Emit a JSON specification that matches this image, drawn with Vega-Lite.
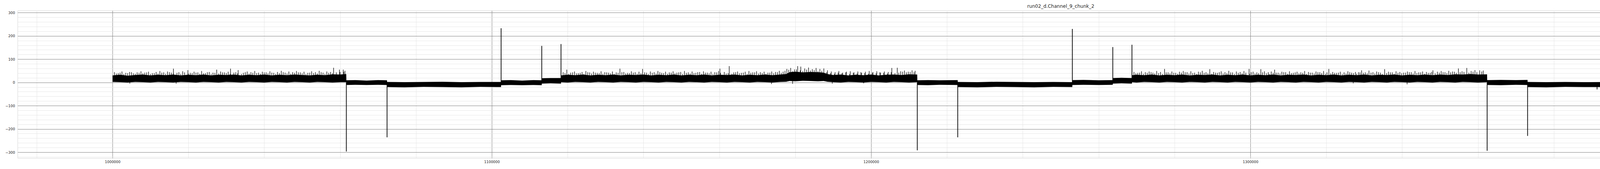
{
"$schema":"https://vega.github.io/schema/vega-lite/v6.json",
"autosize":{"type":"none"},
"padding":{"left":45,"top":27,"right":14,"bottom":28},
"width":5341,"height":377,
"background":"white",
"config":{"view":{"stroke":"#d6d6d6","strokeWidth":1},"axis":{"labelFont":"DejaVu Sans","labelFontSize":9,"labelColor":"#262626","ticks":false,"tickSize":0,"domain":false}},
"title":{"text":"run02_d.Channel_9_chunk_2","font":"DejaVu Sans","fontSize":12,"fontWeight":"normal","color":"#262626","anchor":"middle","offset":4},
"datasets":{
"band":[
{"t":1000000,"lo":2,"hi":30},{"t":1002000,"lo":1,"hi":33},{"t":1004000,"lo":0,"hi":29},{"t":1006000,"lo":2,"hi":32},{"t":1008000,"lo":1,"hi":34},{"t":1010000,"lo":0,"hi":30},{"t":1012000,"lo":2,"hi":33},{"t":1014000,"lo":1,"hi":31},{"t":1016000,"lo":0,"hi":34},{"t":1018000,"lo":2,"hi":30},{"t":1020000,"lo":1,"hi":33},{"t":1022000,"lo":0,"hi":31},{"t":1024000,"lo":2,"hi":34},{"t":1026000,"lo":1,"hi":30},{"t":1028000,"lo":0,"hi":33},{"t":1030000,"lo":2,"hi":32},{"t":1032000,"lo":1,"hi":34},{"t":1034000,"lo":0,"hi":30},{"t":1036000,"lo":2,"hi":33},{"t":1038000,"lo":1,"hi":31},{"t":1040000,"lo":0,"hi":34},{"t":1042000,"lo":2,"hi":30},{"t":1044000,"lo":1,"hi":33},{"t":1046000,"lo":0,"hi":31},{"t":1048000,"lo":2,"hi":34},{"t":1050000,"lo":1,"hi":32},{"t":1052000,"lo":0,"hi":30},{"t":1054000,"lo":2,"hi":33},{"t":1056000,"lo":1,"hi":31},{"t":1058000,"lo":0,"hi":35},{"t":1060000,"lo":1,"hi":34},{"t":1061620,"lo":1,"hi":36},
{"t":1061660,"lo":-11,"hi":9},{"t":1064000,"lo":-10,"hi":10},{"t":1067000,"lo":-11,"hi":8},{"t":1070000,"lo":-10,"hi":10},{"t":1072370,"lo":-11,"hi":9},
{"t":1072400,"lo":-20,"hi":2},{"t":1077000,"lo":-21,"hi":1},{"t":1082000,"lo":-19,"hi":2},{"t":1087000,"lo":-20,"hi":3},{"t":1092000,"lo":-21,"hi":1},{"t":1097000,"lo":-19,"hi":2},{"t":1102440,"lo":-20,"hi":2},
{"t":1102460,"lo":-12,"hi":9},{"t":1105000,"lo":-11,"hi":10},{"t":1108000,"lo":-12,"hi":8},{"t":1111000,"lo":-11,"hi":10},{"t":1113160,"lo":-12,"hi":9},
{"t":1113180,"lo":-5,"hi":18},{"t":1115500,"lo":-4,"hi":19},{"t":1118240,"lo":-5,"hi":19},
{"t":1118260,"lo":1,"hi":30},{"t":1120000,"lo":0,"hi":33},{"t":1122000,"lo":2,"hi":31},{"t":1124000,"lo":1,"hi":34},{"t":1126000,"lo":0,"hi":30},{"t":1128000,"lo":2,"hi":33},{"t":1130000,"lo":1,"hi":31},{"t":1132000,"lo":0,"hi":34},{"t":1134000,"lo":2,"hi":30},{"t":1136000,"lo":1,"hi":33},{"t":1138000,"lo":0,"hi":32},{"t":1140000,"lo":2,"hi":34},{"t":1142000,"lo":1,"hi":30},{"t":1144000,"lo":0,"hi":33},{"t":1146000,"lo":2,"hi":31},{"t":1148000,"lo":1,"hi":34},{"t":1150000,"lo":0,"hi":30},{"t":1152000,"lo":2,"hi":33},{"t":1154000,"lo":1,"hi":31},{"t":1156000,"lo":0,"hi":34},{"t":1158000,"lo":2,"hi":30},{"t":1160000,"lo":1,"hi":33},{"t":1162000,"lo":0,"hi":32},{"t":1164000,"lo":2,"hi":34},{"t":1166000,"lo":1,"hi":30},{"t":1168000,"lo":0,"hi":33},{"t":1170000,"lo":2,"hi":31},{"t":1172000,"lo":1,"hi":34},{"t":1174000,"lo":0,"hi":31},{"t":1176000,"lo":2,"hi":34},{"t":1177600,"lo":3,"hi":36},{"t":1178500,"lo":6,"hi":44},{"t":1180000,"lo":5,"hi":46},{"t":1182000,"lo":7,"hi":43},{"t":1184000,"lo":6,"hi":45},{"t":1186000,"lo":5,"hi":44},{"t":1187500,"lo":6,"hi":42},{"t":1188500,"lo":3,"hi":36},{"t":1190000,"lo":1,"hi":32},{"t":1192000,"lo":0,"hi":34},{"t":1194000,"lo":2,"hi":30},{"t":1196000,"lo":1,"hi":33},{"t":1198000,"lo":0,"hi":31},{"t":1200000,"lo":2,"hi":34},{"t":1202000,"lo":1,"hi":30},{"t":1204000,"lo":0,"hi":33},{"t":1206000,"lo":2,"hi":34},{"t":1208000,"lo":1,"hi":32},{"t":1210000,"lo":0,"hi":35},{"t":1212160,"lo":1,"hi":34},
{"t":1212190,"lo":-11,"hi":9},{"t":1215000,"lo":-12,"hi":10},{"t":1218000,"lo":-10,"hi":9},{"t":1222830,"lo":-11,"hi":10},
{"t":1222850,"lo":-20,"hi":2},{"t":1228000,"lo":-21,"hi":1},{"t":1233000,"lo":-19,"hi":3},{"t":1238000,"lo":-20,"hi":2},{"t":1243000,"lo":-21,"hi":1},{"t":1248000,"lo":-19,"hi":2},{"t":1253050,"lo":-20,"hi":1},
{"t":1253070,"lo":-11,"hi":10},{"t":1256000,"lo":-10,"hi":11},{"t":1260000,"lo":-11,"hi":9},{"t":1263710,"lo":-10,"hi":10},
{"t":1263730,"lo":-5,"hi":19},{"t":1266000,"lo":-4,"hi":20},{"t":1268760,"lo":-5,"hi":19},
{"t":1268780,"lo":1,"hi":31},{"t":1270000,"lo":0,"hi":33},{"t":1272000,"lo":2,"hi":31},{"t":1274000,"lo":1,"hi":34},{"t":1276000,"lo":0,"hi":30},{"t":1278000,"lo":2,"hi":33},{"t":1280000,"lo":1,"hi":31},{"t":1282000,"lo":0,"hi":34},{"t":1284000,"lo":2,"hi":30},{"t":1286000,"lo":1,"hi":33},{"t":1288000,"lo":0,"hi":32},{"t":1290000,"lo":2,"hi":34},{"t":1292000,"lo":1,"hi":30},{"t":1294000,"lo":0,"hi":33},{"t":1296000,"lo":2,"hi":31},{"t":1298000,"lo":1,"hi":34},{"t":1300000,"lo":0,"hi":30},{"t":1302000,"lo":2,"hi":33},{"t":1304000,"lo":1,"hi":31},{"t":1306000,"lo":0,"hi":34},{"t":1308000,"lo":2,"hi":30},{"t":1310000,"lo":1,"hi":33},{"t":1312000,"lo":0,"hi":32},{"t":1314000,"lo":2,"hi":34},{"t":1316000,"lo":1,"hi":30},{"t":1318000,"lo":0,"hi":33},{"t":1320000,"lo":2,"hi":31},{"t":1322000,"lo":1,"hi":34},{"t":1324000,"lo":0,"hi":30},{"t":1326000,"lo":2,"hi":33},{"t":1328000,"lo":1,"hi":31},{"t":1330000,"lo":0,"hi":34},{"t":1332000,"lo":2,"hi":30},{"t":1334000,"lo":1,"hi":33},{"t":1336000,"lo":0,"hi":32},{"t":1338000,"lo":2,"hi":34},{"t":1340000,"lo":1,"hi":30},{"t":1342000,"lo":0,"hi":33},{"t":1344000,"lo":2,"hi":31},{"t":1346000,"lo":1,"hi":34},{"t":1348000,"lo":0,"hi":31},{"t":1350000,"lo":2,"hi":34},{"t":1352000,"lo":1,"hi":32},{"t":1354000,"lo":0,"hi":35},{"t":1356000,"lo":2,"hi":34},{"t":1358000,"lo":1,"hi":36},{"t":1360000,"lo":0,"hi":34},{"t":1362400,"lo":1,"hi":35},
{"t":1362430,"lo":-11,"hi":10},{"t":1366000,"lo":-12,"hi":11},{"t":1370000,"lo":-10,"hi":10},{"t":1373070,"lo":-11,"hi":11},
{"t":1373090,"lo":-20,"hi":2},{"t":1378000,"lo":-21,"hi":1},{"t":1383000,"lo":-19,"hi":2},{"t":1388000,"lo":-20,"hi":1},{"t":1394940,"lo":-20,"hi":2},
{"t":1394950,"lo":-13,"hi":9},{"t":1400000,"lo":-14,"hi":8},{"t":1405000,"lo":-12,"hi":9},{"t":1410000,"lo":-13,"hi":8},{"t":1412370,"lo":-13,"hi":9},
{"t":1412380,"lo":-3,"hi":18},{"t":1413950,"lo":-2,"hi":19},
{"t":1413970,"lo":80,"hi":101},{"t":1416000,"lo":79,"hi":100},{"t":1418880,"lo":80,"hi":101},
{"t":1419000,"lo":197,"hi":221},{"t":1421000,"lo":195,"hi":222},{"t":1423000,"lo":198,"hi":220},{"t":1425200,"lo":196,"hi":221},
{"t":1425210,"lo":49,"hi":71},{"t":1428000,"lo":48,"hi":72},{"t":1431000,"lo":50,"hi":70},{"t":1434000,"lo":49,"hi":71},{"t":1437000,"lo":48,"hi":72},{"t":1440000,"lo":50,"hi":71},{"t":1443000,"lo":49,"hi":70},{"t":1445190,"lo":49,"hi":72},
{"t":1445200,"lo":30,"hi":62},{"t":1445800,"lo":10,"hi":58},{"t":1446500,"lo":15,"hi":55},{"t":1447200,"lo":8,"hi":57},{"t":1447840,"lo":20,"hi":62},
{"t":1447850,"lo":49,"hi":71},{"t":1450000,"lo":48,"hi":72},{"t":1453000,"lo":50,"hi":71},{"t":1456000,"lo":49,"hi":73},{"t":1457400,"lo":48,"hi":71},
{"t":1457410,"lo":0,"hi":19},{"t":1462000,"lo":1,"hi":18},{"t":1467000,"lo":0,"hi":20},{"t":1472000,"lo":1,"hi":19},{"t":1477000,"lo":0,"hi":18},{"t":1482000,"lo":1,"hi":19},{"t":1487000,"lo":0,"hi":20},{"t":1492000,"lo":1,"hi":18},{"t":1497000,"lo":0,"hi":19},{"t":1500000,"lo":1,"hi":19}
],
"spikes":[
{"t":1061650,"a":0,"b":-297},{"t":1072380,"a":-5,"b":-236},{"t":1102450,"a":-5,"b":233},{"t":1113170,"a":0,"b":157},{"t":1118250,"a":5,"b":165},
{"t":1212180,"a":0,"b":-292},{"t":1222840,"a":-5,"b":-236},{"t":1253060,"a":-5,"b":230},{"t":1263720,"a":0,"b":152},{"t":1268770,"a":5,"b":162},
{"t":1362420,"a":0,"b":-294},{"t":1373080,"a":-5,"b":-230},{"t":1391400,"a":-15,"b":-30},{"t":1403225,"a":-5,"b":228},{"t":1413960,"a":10,"b":184},
{"t":1418890,"a":80,"b":0},{"t":1418990,"a":0,"b":280},
{"t":1419470,"a":200,"b":48},{"t":1420550,"a":200,"b":120},{"t":1421240,"a":200,"b":138},{"t":1422430,"a":200,"b":152},{"t":1423220,"a":200,"b":172},{"t":1423910,"a":200,"b":16},{"t":1424690,"a":200,"b":188},
{"t":1429830,"a":50,"b":34},{"t":1432570,"a":50,"b":0},{"t":1435140,"a":50,"b":30},{"t":1438090,"a":50,"b":37},{"t":1439580,"a":50,"b":37},
{"t":1447560,"a":60,"b":80},{"t":1450710,"a":50,"b":38},{"t":1452290,"a":50,"b":35},{"t":1465300,"a":5,"b":-5}
],
"fringe":[
{"t":1004570,"a":5,"b":-5},{"t":1016780,"a":5,"b":-5},{"t":1173740,"a":5,"b":-7},{"t":1179300,"a":8,"b":-6},{"t":1189760,"a":5,"b":-5},{"t":1198040,"a":5,"b":-4},{"t":1327120,"a":5,"b":-4},{"t":1341320,"a":5,"b":-8},
{"t":1000500,"a":25,"b":44},{"t":1001500,"a":25,"b":40},{"t":1002500,"a":25,"b":47},{"t":1003500,"a":25,"b":41},{"t":1004500,"a":25,"b":45},{"t":1005500,"a":25,"b":39},{"t":1006500,"a":25,"b":43},{"t":1007500,"a":25,"b":48},{"t":1008500,"a":25,"b":42},{"t":1009500,"a":25,"b":46},{"t":1010500,"a":25,"b":40},{"t":1011500,"a":25,"b":45},{"t":1012500,"a":25,"b":49},{"t":1013500,"a":25,"b":43},{"t":1014500,"a":25,"b":47},{"t":1015500,"a":25,"b":42},{"t":1016066,"a":25,"b":59},{"t":1017500,"a":25,"b":44},{"t":1018500,"a":25,"b":48},{"t":1019877,"a":25,"b":53},{"t":1020500,"a":25,"b":41},{"t":1021500,"a":25,"b":46},{"t":1022500,"a":25,"b":43},{"t":1023500,"a":25,"b":49},{"t":1024500,"a":25,"b":40},{"t":1025500,"a":25,"b":45},{"t":1026500,"a":25,"b":42},{"t":1027470,"a":25,"b":55},{"t":1028500,"a":25,"b":47},{"t":1029500,"a":25,"b":43},{"t":1030500,"a":25,"b":46},{"t":1031120,"a":25,"b":59},{"t":1032500,"a":25,"b":44},{"t":1033120,"a":25,"b":53},{"t":1034500,"a":25,"b":41},{"t":1035500,"a":25,"b":47},{"t":1036500,"a":25,"b":44},{"t":1037500,"a":25,"b":49},{"t":1038500,"a":25,"b":42},{"t":1039500,"a":25,"b":46},{"t":1040500,"a":25,"b":43},{"t":1041500,"a":25,"b":48},{"t":1042500,"a":25,"b":41},{"t":1043500,"a":25,"b":45},{"t":1044500,"a":25,"b":50},{"t":1045500,"a":25,"b":42},{"t":1046500,"a":25,"b":47},{"t":1047500,"a":25,"b":44},{"t":1048500,"a":25,"b":49},{"t":1049500,"a":25,"b":43},{"t":1050500,"a":25,"b":46},{"t":1051500,"a":25,"b":41},{"t":1052500,"a":25,"b":48},{"t":1053500,"a":25,"b":44},{"t":1054500,"a":25,"b":50},{"t":1055500,"a":25,"b":42},{"t":1056500,"a":25,"b":47},{"t":1057500,"a":25,"b":45},{"t":1058290,"a":25,"b":63},{"t":1059830,"a":25,"b":55},{"t":1060830,"a":25,"b":55},{"t":1061300,"a":25,"b":50},
{"t":1001000,"a":25,"b":38},{"t":1002000,"a":25,"b":42},{"t":1003000,"a":25,"b":36},{"t":1004000,"a":25,"b":40},{"t":1005000,"a":25,"b":44},{"t":1006000,"a":25,"b":37},{"t":1007000,"a":25,"b":41},{"t":1008000,"a":25,"b":39},{"t":1009000,"a":25,"b":43},{"t":1010000,"a":25,"b":36},{"t":1011000,"a":25,"b":40},{"t":1012000,"a":25,"b":38},{"t":1013000,"a":25,"b":42},{"t":1014000,"a":25,"b":37},{"t":1015000,"a":25,"b":44},{"t":1016000,"a":25,"b":39},{"t":1017000,"a":25,"b":41},{"t":1018000,"a":25,"b":36},{"t":1019000,"a":25,"b":43},{"t":1020000,"a":25,"b":38},{"t":1021000,"a":25,"b":40},{"t":1022000,"a":25,"b":42},{"t":1023000,"a":25,"b":37},{"t":1024000,"a":25,"b":39},{"t":1025000,"a":25,"b":44},{"t":1026000,"a":25,"b":36},{"t":1027000,"a":25,"b":41},{"t":1028000,"a":25,"b":38},{"t":1029000,"a":25,"b":43},{"t":1030000,"a":25,"b":40},{"t":1031000,"a":25,"b":37},{"t":1032000,"a":25,"b":42},{"t":1033000,"a":25,"b":39},{"t":1034000,"a":25,"b":36},{"t":1035000,"a":25,"b":44},{"t":1036000,"a":25,"b":38},{"t":1037000,"a":25,"b":41},{"t":1038000,"a":25,"b":40},{"t":1039000,"a":25,"b":37},{"t":1040000,"a":25,"b":43},{"t":1041000,"a":25,"b":39},{"t":1042000,"a":25,"b":42},{"t":1043000,"a":25,"b":36},{"t":1044000,"a":25,"b":40},{"t":1045000,"a":25,"b":44},{"t":1046000,"a":25,"b":38},{"t":1047000,"a":25,"b":37},{"t":1048000,"a":25,"b":41},{"t":1049000,"a":25,"b":43},{"t":1050000,"a":25,"b":39},{"t":1051000,"a":25,"b":36},{"t":1052000,"a":25,"b":42},{"t":1053000,"a":25,"b":40},{"t":1054000,"a":25,"b":38},{"t":1055000,"a":25,"b":44},{"t":1056000,"a":25,"b":37},{"t":1057000,"a":25,"b":41},{"t":1058000,"a":25,"b":39},{"t":1059000,"a":25,"b":43},{"t":1060000,"a":25,"b":45},{"t":1061000,"a":25,"b":46},
{"t":1118800,"a":25,"b":44},{"t":1119774,"a":25,"b":55},{"t":1120800,"a":25,"b":42},{"t":1121800,"a":25,"b":47},{"t":1122800,"a":25,"b":40},{"t":1123800,"a":25,"b":45},{"t":1124800,"a":25,"b":49},{"t":1125800,"a":25,"b":43},{"t":1126800,"a":25,"b":46},{"t":1127800,"a":25,"b":41},{"t":1128800,"a":25,"b":48},{"t":1129800,"a":25,"b":44},{"t":1130800,"a":25,"b":42},{"t":1131800,"a":25,"b":47},{"t":1132800,"a":25,"b":43},{"t":1133780,"a":25,"b":59},{"t":1134800,"a":25,"b":45},{"t":1135800,"a":25,"b":41},{"t":1136800,"a":25,"b":48},{"t":1137800,"a":25,"b":44},{"t":1138800,"a":25,"b":46},{"t":1139750,"a":25,"b":58},{"t":1140800,"a":25,"b":42},{"t":1141800,"a":25,"b":47},{"t":1142800,"a":25,"b":44},{"t":1143800,"a":25,"b":49},{"t":1144800,"a":25,"b":41},{"t":1145800,"a":25,"b":46},{"t":1146800,"a":25,"b":43},{"t":1147800,"a":25,"b":48},{"t":1148800,"a":25,"b":42},{"t":1149800,"a":25,"b":45},{"t":1150800,"a":25,"b":49},{"t":1151800,"a":25,"b":43},{"t":1152800,"a":25,"b":47},{"t":1153800,"a":25,"b":41},{"t":1154800,"a":25,"b":45},{"t":1155800,"a":25,"b":48},{"t":1156800,"a":25,"b":42},{"t":1157800,"a":25,"b":46},{"t":1158800,"a":25,"b":44},{"t":1159800,"a":25,"b":49},{"t":1160145,"a":25,"b":59},{"t":1161300,"a":25,"b":45},{"t":1162590,"a":25,"b":70},{"t":1163800,"a":25,"b":43},{"t":1164800,"a":25,"b":47},{"t":1165800,"a":25,"b":41},{"t":1166800,"a":25,"b":46},{"t":1167800,"a":25,"b":49},{"t":1168800,"a":25,"b":43},{"t":1169800,"a":25,"b":48},{"t":1170800,"a":25,"b":44},{"t":1171800,"a":25,"b":46},{"t":1172800,"a":25,"b":42},{"t":1173800,"a":25,"b":47},{"t":1174800,"a":25,"b":45},{"t":1175800,"a":25,"b":50},{"t":1176800,"a":25,"b":46},{"t":1177800,"a":25,"b":58},{"t":1178800,"a":25,"b":62},{"t":1179800,"a":25,"b":56},{"t":1180640,"a":25,"b":70},{"t":1181460,"a":25,"b":68},{"t":1182500,"a":25,"b":60},{"t":1183500,"a":25,"b":64},{"t":1184500,"a":25,"b":57},{"t":1185500,"a":25,"b":62},{"t":1186500,"a":25,"b":58},{"t":1187540,"a":25,"b":60},{"t":1188500,"a":25,"b":52},{"t":1189500,"a":25,"b":47},{"t":1190500,"a":25,"b":44},{"t":1191500,"a":25,"b":49},{"t":1192500,"a":25,"b":42},{"t":1193500,"a":25,"b":46},{"t":1194500,"a":25,"b":48},{"t":1195500,"a":25,"b":43},{"t":1196500,"a":25,"b":47},{"t":1197500,"a":25,"b":41},{"t":1198500,"a":25,"b":46},{"t":1199500,"a":25,"b":49},{"t":1200500,"a":25,"b":44},{"t":1201500,"a":25,"b":48},{"t":1202500,"a":25,"b":42},{"t":1203500,"a":25,"b":47},{"t":1204500,"a":25,"b":45},{"t":1205460,"a":25,"b":62},{"t":1206900,"a":25,"b":63},{"t":1207800,"a":25,"b":48},{"t":1208800,"a":25,"b":51},{"t":1209800,"a":25,"b":46},{"t":1210800,"a":25,"b":52},{"t":1211600,"a":25,"b":50},
{"t":1119300,"a":25,"b":40},{"t":1120300,"a":25,"b":37},{"t":1121300,"a":25,"b":43},{"t":1122300,"a":25,"b":39},{"t":1123300,"a":25,"b":41},{"t":1124300,"a":25,"b":36},{"t":1125300,"a":25,"b":44},{"t":1126300,"a":25,"b":38},{"t":1127300,"a":25,"b":42},{"t":1128300,"a":25,"b":40},{"t":1129300,"a":25,"b":37},{"t":1130300,"a":25,"b":43},{"t":1131300,"a":25,"b":39},{"t":1132300,"a":25,"b":36},{"t":1133300,"a":25,"b":41},{"t":1134300,"a":25,"b":44},{"t":1135300,"a":25,"b":38},{"t":1136300,"a":25,"b":40},{"t":1137300,"a":25,"b":42},{"t":1138300,"a":25,"b":37},{"t":1139300,"a":25,"b":39},{"t":1140300,"a":25,"b":43},{"t":1141300,"a":25,"b":36},{"t":1142300,"a":25,"b":41},{"t":1143300,"a":25,"b":38},{"t":1144300,"a":25,"b":44},{"t":1145300,"a":25,"b":40},{"t":1146300,"a":25,"b":37},{"t":1147300,"a":25,"b":42},{"t":1148300,"a":25,"b":39},{"t":1149300,"a":25,"b":43},{"t":1150300,"a":25,"b":36},{"t":1151300,"a":25,"b":41},{"t":1152300,"a":25,"b":38},{"t":1153300,"a":25,"b":40},{"t":1154300,"a":25,"b":44},{"t":1155300,"a":25,"b":37},{"t":1156300,"a":25,"b":42},{"t":1157300,"a":25,"b":39},{"t":1158300,"a":25,"b":36},{"t":1159300,"a":25,"b":43},{"t":1160300,"a":25,"b":41},{"t":1161800,"a":25,"b":38},{"t":1162300,"a":25,"b":40},{"t":1163300,"a":25,"b":37},{"t":1164300,"a":25,"b":44},{"t":1165300,"a":25,"b":39},{"t":1166300,"a":25,"b":42},{"t":1167300,"a":25,"b":36},{"t":1168300,"a":25,"b":41},{"t":1169300,"a":25,"b":43},{"t":1170300,"a":25,"b":38},{"t":1171300,"a":25,"b":40},{"t":1172300,"a":25,"b":37},{"t":1173300,"a":25,"b":42},{"t":1174300,"a":25,"b":39},{"t":1175300,"a":25,"b":44},{"t":1176300,"a":25,"b":41},
{"t":1177300,"a":30,"b":50},{"t":1178300,"a":30,"b":54},{"t":1179300,"a":30,"b":48},{"t":1180300,"a":30,"b":56},{"t":1181300,"a":30,"b":52},{"t":1182000,"a":30,"b":49},{"t":1183000,"a":30,"b":55},{"t":1184000,"a":30,"b":51},{"t":1185000,"a":30,"b":53},{"t":1186000,"a":30,"b":48},{"t":1187000,"a":30,"b":50},
{"t":1188300,"a":25,"b":44},{"t":1189300,"a":25,"b":40},{"t":1190300,"a":25,"b":37},{"t":1191300,"a":25,"b":42},{"t":1192300,"a":25,"b":39},{"t":1193300,"a":25,"b":43},{"t":1194300,"a":25,"b":36},{"t":1195300,"a":25,"b":41},{"t":1196300,"a":25,"b":38},{"t":1197300,"a":25,"b":44},{"t":1198300,"a":25,"b":40},{"t":1199300,"a":25,"b":37},{"t":1200300,"a":25,"b":42},{"t":1201300,"a":25,"b":39},{"t":1202300,"a":25,"b":43},{"t":1203300,"a":25,"b":41},{"t":1204300,"a":25,"b":38},{"t":1205300,"a":25,"b":44},{"t":1206300,"a":25,"b":40},{"t":1207300,"a":25,"b":42},{"t":1208300,"a":25,"b":46},{"t":1209300,"a":25,"b":43},{"t":1210300,"a":25,"b":45},{"t":1211300,"a":25,"b":44},
{"t":1269300,"a":25,"b":45},{"t":1270300,"a":25,"b":41},{"t":1271300,"a":25,"b":48},{"t":1272300,"a":25,"b":44},{"t":1273300,"a":25,"b":47},{"t":1274300,"a":25,"b":42},{"t":1275300,"a":25,"b":49},{"t":1276300,"a":25,"b":45},{"t":1277380,"a":25,"b":58},{"t":1278300,"a":25,"b":43},{"t":1279300,"a":25,"b":47},{"t":1280300,"a":25,"b":41},{"t":1281300,"a":25,"b":46},{"t":1282300,"a":25,"b":49},{"t":1283300,"a":25,"b":44},{"t":1284300,"a":25,"b":48},{"t":1285300,"a":25,"b":42},{"t":1286300,"a":25,"b":46},{"t":1287300,"a":25,"b":50},{"t":1288300,"a":25,"b":44},{"t":1289300,"a":25,"b":57},{"t":1290300,"a":25,"b":45},{"t":1291300,"a":25,"b":41},{"t":1292300,"a":25,"b":48},{"t":1293300,"a":25,"b":44},{"t":1294300,"a":25,"b":50},{"t":1295300,"a":25,"b":43},{"t":1296300,"a":25,"b":47},{"t":1297300,"a":25,"b":45},{"t":1298300,"a":25,"b":49},{"t":1299650,"a":25,"b":58},{"t":1300700,"a":25,"b":46},{"t":1301700,"a":25,"b":43},{"t":1302750,"a":25,"b":57},{"t":1303700,"a":25,"b":48},{"t":1304700,"a":25,"b":44},{"t":1305500,"a":25,"b":47},{"t":1306390,"a":25,"b":55},{"t":1307300,"a":25,"b":42},{"t":1308300,"a":25,"b":46},{"t":1309300,"a":25,"b":44},{"t":1310300,"a":25,"b":48},{"t":1311300,"a":25,"b":41},{"t":1312300,"a":25,"b":46},{"t":1313300,"a":25,"b":43},{"t":1314300,"a":25,"b":49},{"t":1315300,"a":25,"b":45},{"t":1316300,"a":25,"b":42},{"t":1317300,"a":25,"b":47},{"t":1318300,"a":25,"b":44},{"t":1319300,"a":25,"b":49},{"t":1320680,"a":25,"b":58},{"t":1321700,"a":25,"b":45},{"t":1322700,"a":25,"b":41},{"t":1323700,"a":25,"b":46},{"t":1324700,"a":25,"b":43},{"t":1325700,"a":25,"b":48},{"t":1326700,"a":25,"b":42},{"t":1327700,"a":25,"b":45},{"t":1328500,"a":25,"b":44},{"t":1329320,"a":25,"b":52},{"t":1330300,"a":25,"b":43},{"t":1331260,"a":25,"b":51},{"t":1332300,"a":25,"b":44},{"t":1333300,"a":25,"b":47},{"t":1334300,"a":25,"b":42},{"t":1335390,"a":25,"b":57},{"t":1336400,"a":25,"b":46},{"t":1337400,"a":25,"b":43},{"t":1338400,"a":25,"b":48},{"t":1339400,"a":25,"b":45},{"t":1340400,"a":25,"b":42},{"t":1341400,"a":25,"b":47},{"t":1342400,"a":25,"b":44},{"t":1343400,"a":25,"b":49},{"t":1344400,"a":25,"b":43},{"t":1345400,"a":25,"b":47},{"t":1346400,"a":25,"b":45},{"t":1347400,"a":25,"b":41},{"t":1348130,"a":25,"b":52},{"t":1349300,"a":25,"b":46},{"t":1350300,"a":25,"b":49},{"t":1351300,"a":25,"b":44},{"t":1352300,"a":25,"b":50},{"t":1353300,"a":25,"b":47},{"t":1354840,"a":25,"b":60},{"t":1355800,"a":25,"b":48},{"t":1357050,"a":25,"b":62},{"t":1358200,"a":25,"b":49},{"t":1359200,"a":25,"b":53},{"t":1360450,"a":25,"b":52},{"t":1361400,"a":25,"b":51},
{"t":1269800,"a":25,"b":39},{"t":1270800,"a":25,"b":42},{"t":1271800,"a":25,"b":37},{"t":1272800,"a":25,"b":41},{"t":1273800,"a":25,"b":44},{"t":1274800,"a":25,"b":38},{"t":1275800,"a":25,"b":40},{"t":1276800,"a":25,"b":36},{"t":1277800,"a":25,"b":43},{"t":1278800,"a":25,"b":39},{"t":1279800,"a":25,"b":41},{"t":1280800,"a":25,"b":37},{"t":1281800,"a":25,"b":42},{"t":1282800,"a":25,"b":44},{"t":1283800,"a":25,"b":38},{"t":1284800,"a":25,"b":40},{"t":1285800,"a":25,"b":36},{"t":1286800,"a":25,"b":43},{"t":1287800,"a":25,"b":41},{"t":1288800,"a":25,"b":39},{"t":1289800,"a":25,"b":37},{"t":1290800,"a":25,"b":42},{"t":1291800,"a":25,"b":44},{"t":1292800,"a":25,"b":38},{"t":1293800,"a":25,"b":40},{"t":1294800,"a":25,"b":43},{"t":1295800,"a":25,"b":36},{"t":1296800,"a":25,"b":41},{"t":1297800,"a":25,"b":39},{"t":1298800,"a":25,"b":42},{"t":1299800,"a":25,"b":37},{"t":1300200,"a":25,"b":44},{"t":1301200,"a":25,"b":38},{"t":1302200,"a":25,"b":40},{"t":1303200,"a":25,"b":43},{"t":1304200,"a":25,"b":39},{"t":1305000,"a":25,"b":36},{"t":1306000,"a":25,"b":41},{"t":1306800,"a":25,"b":42},{"t":1307800,"a":25,"b":38},{"t":1308800,"a":25,"b":44},{"t":1309800,"a":25,"b":37},{"t":1310800,"a":25,"b":40},{"t":1311800,"a":25,"b":43},{"t":1312800,"a":25,"b":39},{"t":1313800,"a":25,"b":41},{"t":1314800,"a":25,"b":36},{"t":1315800,"a":25,"b":42},{"t":1316800,"a":25,"b":38},{"t":1317800,"a":25,"b":44},{"t":1318800,"a":25,"b":40},{"t":1319800,"a":25,"b":37},{"t":1320200,"a":25,"b":43},{"t":1321200,"a":25,"b":39},{"t":1322200,"a":25,"b":41},{"t":1323200,"a":25,"b":42},{"t":1324200,"a":25,"b":36},{"t":1325200,"a":25,"b":38},{"t":1326200,"a":25,"b":44},{"t":1327200,"a":25,"b":40},{"t":1328000,"a":25,"b":37},{"t":1328900,"a":25,"b":43},{"t":1329800,"a":25,"b":41},{"t":1330800,"a":25,"b":39},{"t":1331800,"a":25,"b":42},{"t":1332800,"a":25,"b":38},{"t":1333800,"a":25,"b":44},{"t":1334800,"a":25,"b":36},{"t":1335900,"a":25,"b":40},{"t":1336900,"a":25,"b":43},{"t":1337900,"a":25,"b":37},{"t":1338900,"a":25,"b":41},{"t":1339900,"a":25,"b":39},{"t":1340900,"a":25,"b":42},{"t":1341900,"a":25,"b":44},{"t":1342900,"a":25,"b":38},{"t":1343900,"a":25,"b":40},{"t":1344900,"a":25,"b":43},{"t":1345900,"a":25,"b":37},{"t":1346900,"a":25,"b":41},{"t":1347800,"a":25,"b":45},{"t":1348700,"a":25,"b":39},{"t":1349800,"a":25,"b":42},{"t":1350800,"a":25,"b":44},{"t":1351800,"a":25,"b":40},{"t":1352800,"a":25,"b":43},{"t":1353800,"a":25,"b":46},{"t":1354300,"a":25,"b":41},{"t":1355300,"a":25,"b":44},{"t":1356300,"a":25,"b":45},{"t":1357600,"a":25,"b":42},{"t":1358700,"a":25,"b":46},{"t":1359700,"a":25,"b":44},{"t":1361000,"a":25,"b":47}
]
},
"layer":[
{"data":{"name":"band"},"mark":{"type":"area","color":"#000000","opacity":1,"interpolate":"linear"},
"encoding":{
"x":{"field":"t","type":"quantitative","scale":{"domain":[974974,1525025],"nice":false,"zero":false},"axis":{"orient":"top","values":[980000,1020000,1040000,1060000,1080000,1120000,1140000,1160000,1180000,1220000,1240000,1260000,1280000,1320000,1340000,1360000,1380000,1420000,1440000,1460000,1480000,1520000],"grid":true,"gridColor":"#e6e6e6","gridWidth":1,"labels":false,"ticks":false,"domain":false,"title":null}},
"y":{"field":"lo","type":"quantitative","scale":{"domain":[-325.2,309],"nice":false,"zero":false},"axis":{"orient":"right","values":[-320,-280,-260,-240,-220,-180,-160,-140,-120,-80,-60,-40,-20,20,40,60,80,120,140,160,180,220,240,260,280],"grid":true,"gridColor":"#e6e6e6","gridWidth":1,"labels":false,"ticks":false,"domain":false,"title":null}},
"y2":{"field":"hi"}}},
{"data":{"name":"fringe"},"mark":{"type":"rule","color":"#000000","strokeWidth":1.3},
"encoding":{
"x":{"field":"t","type":"quantitative","axis":null},
"y":{"field":"a","type":"quantitative","axis":null},
"y2":{"field":"b"}}},
{"data":{"name":"spikes"},"mark":{"type":"rule","color":"#000000","strokeWidth":1.8},
"encoding":{
"x":{"field":"t","type":"quantitative","axis":{"orient":"bottom","values":[1000000,1100000,1200000,1300000,1400000,1500000],"format":"d","grid":true,"gridColor":"#7f7f7f","gridWidth":1,"labelPadding":5,"ticks":false,"domain":false,"title":null}},
"y":{"field":"a","type":"quantitative","axis":{"orient":"left","values":[-300,-200,-100,0,100,200,300],"format":"d","labelExpr":"replace(datum.label, '-', '\u2212')","grid":true,"gridColor":"#7f7f7f","gridWidth":1,"labelPadding":7,"ticks":false,"domain":false,"title":null}},
"y2":{"field":"b"}}}
],
"resolve":{"axis":{"x":"independent","y":"independent"}}
}
